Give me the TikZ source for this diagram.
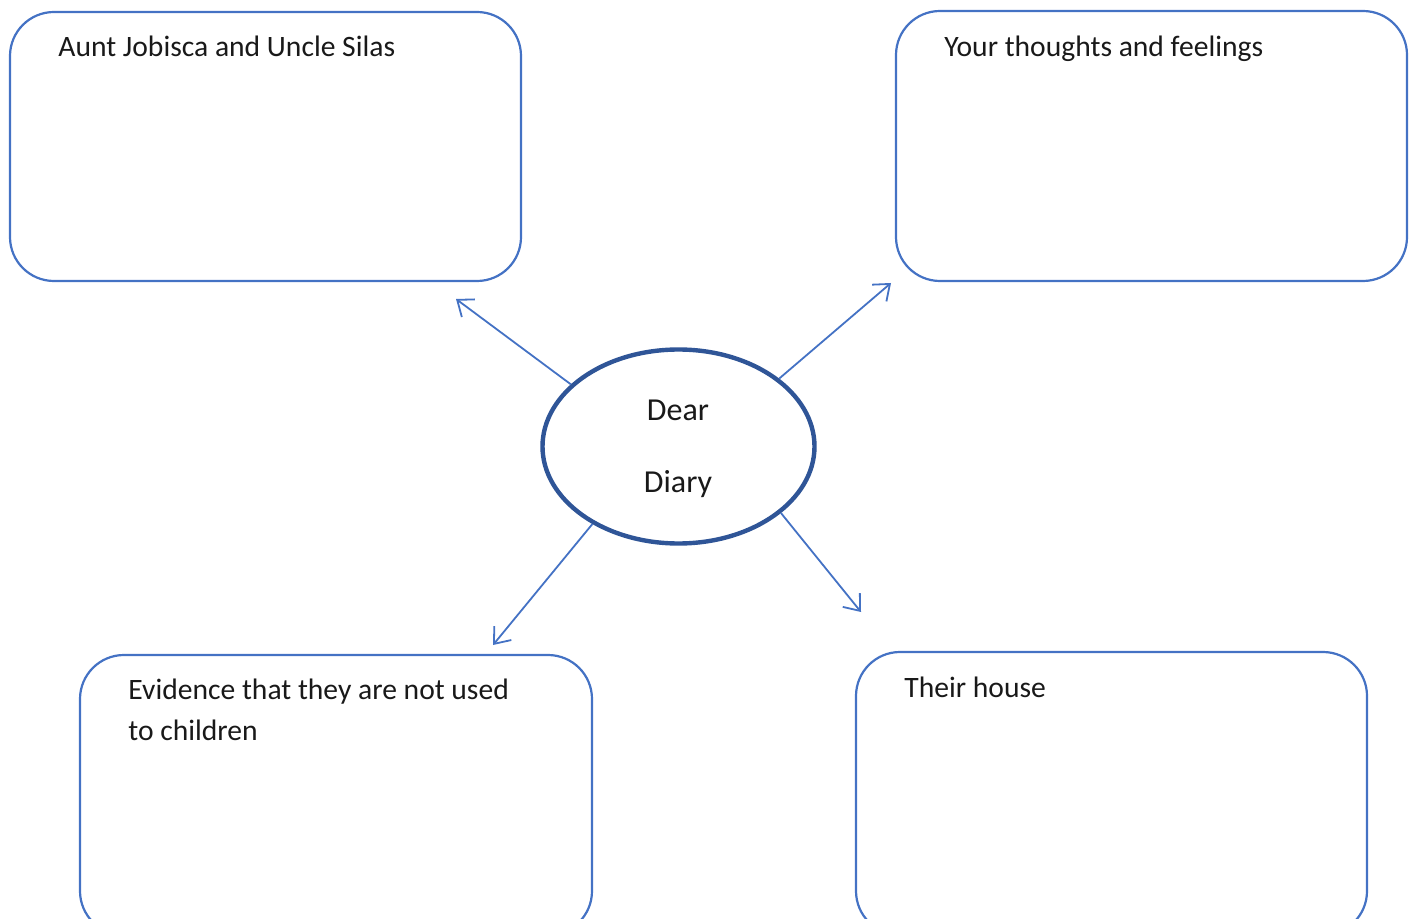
\documentclass[tikz,border=0pt]{standalone}
\usepackage{fontspec}
\setmainfont{Carlito}
\usetikzlibrary{shapes.geometric,arrows.meta}
\definecolor{boxblue}{RGB}{68,114,196}
\definecolor{ellblue}{RGB}{47,85,151}
\begin{document}
\begin{tikzpicture}[x=0.5pt,y=-0.5pt,
  box/.style={draw=boxblue,line width=1.1pt,rectangle,rounded corners=22pt,inner sep=0pt},
  lbl/.style={inner sep=0pt,font=\fontsize{14.8}{20.5}\selectfont,text=black!90},
  dlbl/.style={inner sep=0pt,font=\fontsize{16}{20.5}\selectfont,text=black!90},
  arr/.style={draw=boxblue,line width=0.9pt,-{Straight Barb[length=7pt,width=11pt]}}]
\useasboundingbox (0,0) rectangle (1413,919);
\clip (0,0) rectangle (1413,919);
\node[box,minimum width=255.5pt,minimum height=134.5pt] (tl) at (265.5,146.5) {};
\node[box,minimum width=255.5pt,minimum height=135pt] (tr) at (1151.5,146) {};
\node[box,minimum width=256pt,minimum height=140pt] (bl) at (336,795) {};
\node[box,minimum width=255.5pt,minimum height=141.5pt] (br) at (1111.5,793.5) {};
\node[ellipse,draw=ellblue,line width=2.2pt,minimum width=136pt,minimum height=97pt,inner sep=0pt] (ell) at (678.5,446.5) {};
\node[lbl,anchor=base west] (ttl) at (58,57) {Aunt Jobisca and Uncle Silas};
\node[lbl,anchor=base west] (ttr) at (944,57) {Your thoughts and feelings};
\node[lbl,anchor=base west] (tbl1) at (128,699) {Evidence that they are not used};
\node[lbl,anchor=base west] (tbl2) at (128,740) {to children};
\node[lbl,anchor=base west] (tbr) at (904,697) {Their house};
\node[dlbl,anchor=base] (d1) at (678,421) {Dear};
\node[dlbl,anchor=base] (d2) at (678,492) {Diary};
\coordinate (ptl) at (456,299);
\coordinate (ptr) at (891,283);
\coordinate (pbl) at (493,645);
\coordinate (pbr) at (861,612);
\draw[arr] (ell.150) -- (ptl);
\draw[arr] (ell.34) -- (ptr);
\draw[arr] (ell.-138.5) -- (pbl);
\draw[arr] (ell.-33.6) -- (pbr);
\end{tikzpicture}
\end{document}
